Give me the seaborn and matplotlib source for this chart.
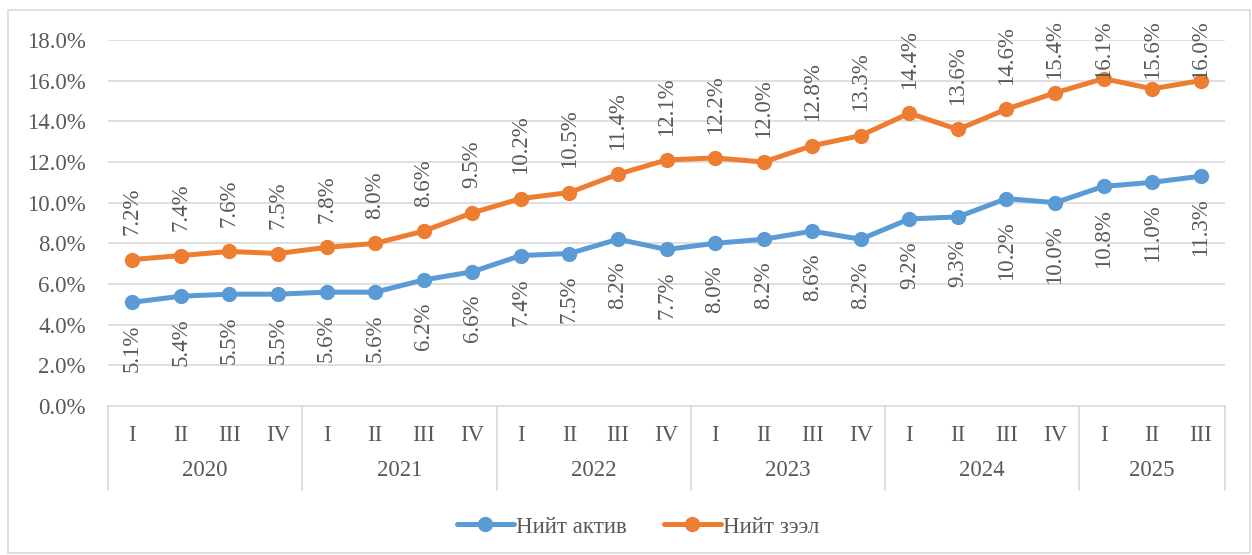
import matplotlib
matplotlib.use("Agg")
import matplotlib.pyplot as plt
import seaborn as sns
import pandas as pd
import numpy as np
from matplotlib.patches import Rectangle
from matplotlib.lines import Line2D

years = ["2020", "2021", "2022", "2023", "2024", "2025"]
quarters = ["I", "II", "III", "IV"] * 5 + ["I", "II", "III"]
series_names = ["Нийт актив", "Нийт зээл"]
total_assets = [5.1, 5.4, 5.5, 5.5, 5.6, 5.6, 6.2, 6.6, 7.4, 7.5, 8.2, 7.7,
                8.0, 8.2, 8.6, 8.2, 9.2, 9.3, 10.2, 10.0, 10.8, 11.0, 11.3]
total_loans = [7.2, 7.4, 7.6, 7.5, 7.8, 8.0, 8.6, 9.5, 10.2, 10.5, 11.4, 12.1,
               12.2, 12.0, 12.8, 13.3, 14.4, 13.6, 14.6, 15.4, 16.1, 15.6, 16.0]
quarters_per_year = [4, 4, 4, 4, 4, 3]

sns.set_theme(style="white")
plt.rcParams['font.family'] = ['Liberation Serif', 'DejaVu Serif']
TXT = "#595959"
GRID = "#D9D9D9"
BLUE = "#5B9BD5"
ORANGE = "#ED7D31"
FS = 16.5

n = len(quarters)
df = pd.DataFrame({
    "x": list(range(n)) * 2,
    "value": total_assets + total_loans,
    "series": [series_names[0]] * n + [series_names[1]] * n,
})

fig = plt.figure(figsize=(12.52, 5.55), dpi=100)
fig.patches.append(Rectangle((8 / 1252, 2 / 555), 1242 / 1252, 543 / 555,
                             transform=fig.transFigure, fill=False,
                             edgecolor=GRID, linewidth=1.2))
ax = fig.add_axes([108 / 1252, 1 - 406 / 555, (1225 - 108) / 1252, 366 / 555])

sns.lineplot(data=df, x="x", y="value", hue="series",
             palette=[BLUE, ORANGE], marker="o", markersize=11,
             markeredgewidth=0, linewidth=3.6, ax=ax, legend=False)

ax.set_xlim(-0.5, n - 0.5)
ax.set_ylim(0, 18)
yt = np.arange(0, 18.1, 2)
ax.set_yticks(yt)
ax.set_yticklabels([f"{v:.1f}%" for v in yt], color=TXT, fontsize=FS)
ax.tick_params(axis="y", length=0, pad=16)
for v in yt[1:]:
    ax.axhline(v, color=GRID, linewidth=1.2, zorder=0)
for s in ["top", "right", "left"]:
    ax.spines[s].set_visible(False)
ax.spines["bottom"].set_color(GRID)
ax.spines["bottom"].set_linewidth(1.2)
ax.set_xlabel("")
ax.set_ylabel("")

ax.set_xticks(range(n))
ax.set_xticklabels(quarters, color=TXT, fontsize=FS)
ax.tick_params(axis="x", length=0, pad=14)

trans = ax.get_xaxis_transform()
bounds = np.concatenate([[0], np.cumsum(quarters_per_year)]) - 0.5
for b in bounds:
    ax.add_line(Line2D([b, b], [0, -0.23], transform=trans, color=GRID,
                       linewidth=1.2, clip_on=False))
for i, y in enumerate(years):
    c = (bounds[i] + bounds[i + 1]) / 2
    ax.text(c, -0.175, y, transform=trans, ha="center", va="center",
            color=TXT, fontsize=FS)

for i, v in enumerate(total_loans):
    ax.text(i, min(v + 1.2, 16.1), f"{v:.1f}%", rotation=90, ha="center",
            va="bottom", color=TXT, fontsize=FS, clip_on=False)
for i, v in enumerate(total_assets):
    ax.text(i, v - 1.1, f"{v:.1f}%", rotation=90, ha="center",
            va="top", color=TXT, fontsize=FS, clip_on=False)

handles = [Line2D([], [], color=BLUE, marker="o", markersize=11,
                  linewidth=3.6, markeredgewidth=0),
           Line2D([], [], color=ORANGE, marker="o", markersize=11,
                  linewidth=3.6, markeredgewidth=0)]
leg = fig.legend(handles, series_names, loc="center", ncol=2,
                 bbox_to_anchor=(638 / 1252, 1 - 527 / 555), frameon=False,
                 fontsize=FS, handlelength=2.5, handletextpad=0.1,
                 columnspacing=1.6)
for t in leg.get_texts():
    t.set_color(TXT)

fig.savefig("out.png", dpi=100)
